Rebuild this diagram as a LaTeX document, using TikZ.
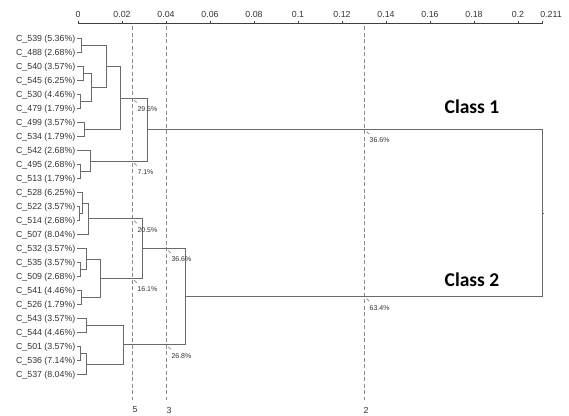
\documentclass[tikz,border=0pt]{standalone}
\usepackage{fontspec}
\setmainfont{Liberation Sans}
\newfontfamily\classfont{Carlito}
\definecolor{treegray}{HTML}{6A6A6A}
\definecolor{axgray}{HTML}{404040}
\definecolor{txtgray}{HTML}{333333}
\definecolor{cutgray}{HTML}{8C8C8C}
\begin{document}
\begin{tikzpicture}[x=1pt,y=-1pt,
  tree/.style={draw=treegray, line width=0.9pt},
  axisline/.style={draw=axgray, line width=0.9pt},
  leaf/.style={anchor=east, font=\fontsize{8.8}{10}\selectfont, text=txtgray, inner sep=0pt},
  ticklab/.style={font=\fontsize{8.8}{10}\selectfont, text=txtgray, inner sep=0pt},
  pct/.style={anchor=west, font=\fontsize{7}{8}\selectfont, text=txtgray, inner sep=0pt},
  cutline/.style={draw=cutgray, dash pattern=on 4pt off 2.5pt, line width=0.8pt},
  leader/.style={draw=treegray, line width=0.5pt},
  classlab/.style={font=\classfont\bfseries\fontsize{19.5}{22}\selectfont, text=black, inner sep=0pt}]
\useasboundingbox (0,0) rectangle (569,415);

% axis
\coordinate (ax0) at (78,23.5);
\coordinate (ax1) at (542.2,23.5);
\draw[axisline] (ax0) -- (ax1);
\foreach \xx/\lab [count=\k] in {78/0, 122/0.02, 166/0.04, 210/0.06, 254/0.08, 298/0.1, 342/0.12, 386/0.14, 430/0.16, 474/0.18, 518/0.2} {
  \coordinate (tk\k) at (\xx,23.5);
  \draw[axisline] (tk\k) -- ++(0,-3);
  \node[ticklab] (tl\k) at (\xx,14) {\lab};
}
\coordinate (tk12) at (542.2,23.5);
\draw[axisline] (tk12) -- ++(0,-3);
\node[ticklab] (tl12) at (551,14) {0.211};

% cut lines
\coordinate (k5t) at (132.3,26); \coordinate (k5b) at (132.3,400);
\coordinate (k3t) at (166.3,26); \coordinate (k3b) at (166.3,400);
\coordinate (k2t) at (364.5,26); \coordinate (k2b) at (364.5,400);
\draw[cutline] (k5t) -- (k5b);
\draw[cutline] (k3t) -- (k3b);
\draw[cutline] (k2t) -- (k2b);
\node[ticklab] (n5) at (135,410) {5};
\node[ticklab] (n3) at (169,410) {3};
\node[ticklab] (n2) at (366,410) {2};

% leaves
\foreach \i/\id/\p in {0/539/5.36, 1/488/2.68, 2/540/3.57, 3/545/6.25, 4/530/4.46,
  5/479/1.79, 6/499/3.57, 7/534/1.79, 8/542/2.68, 9/495/2.68, 10/513/1.79,
  11/528/6.25, 12/522/3.57, 13/514/2.68, 14/507/8.04, 15/532/3.57, 16/535/3.57,
  17/509/2.68, 18/541/4.46, 19/526/1.79, 20/543/3.57, 21/544/4.46, 22/501/3.57,
  23/536/7.14, 24/537/8.04} {
  \pgfmathsetmacro\yy{38.5+14*\i}
  \node[leaf] (L\id) at (75.5,{\yy+0.6}) {C\_\id{} (\p\%)};
  \coordinate (P\id) at (77,\yy);
}

% internal merge points
\coordinate (a1) at (81,45.5);
\coordinate (a2) at (83,73.5);
\coordinate (a3) at (80.7,101.5);
\coordinate (a4) at (91.7,87.5);
\coordinate (a5) at (106,66.5);
\coordinate (a6) at (84,129.5);
\coordinate (a7) at (120,98);
\coordinate (a8) at (80,171.5);
\coordinate (a9) at (90,161);
\coordinate (C1) at (147.7,129.5);
\coordinate (b1) at (79,213.5);
\coordinate (b2) at (82,203);
\coordinate (b3) at (88.7,218.75);
\coordinate (b4) at (80,269.5);
\coordinate (b5) at (86,259);
\coordinate (b6) at (81,297.5);
\coordinate (b7) at (100,278.25);
\coordinate (b8) at (142.5,248.5);
\coordinate (c1) at (86,325.5);
\coordinate (c2) at (80,353.5);
\coordinate (c3) at (86,364);
\coordinate (c4) at (123.3,344.75);
\coordinate (C2) at (185,296.6);
\coordinate (R) at (542.2,213);

% class 1 branches
\draw[tree] (P539) -| (a1); \draw[tree] (P488) -| (a1);
\draw[tree] (P540) -| (a2); \draw[tree] (P545) -| (a2);
\draw[tree] (P530) -| (a3); \draw[tree] (P479) -| (a3);
\draw[tree] (a2) -| (a4); \draw[tree] (a3) -| (a4);
\draw[tree] (a1) -| (a5); \draw[tree] (a4) -| (a5);
\draw[tree] (P499) -| (a6); \draw[tree] (P534) -| (a6);
\draw[tree] (a5) -| (a7); \draw[tree] (a6) -| (a7);
\draw[tree] (P495) -| (a8); \draw[tree] (P513) -| (a8);
\draw[tree] (P542) -| (a9); \draw[tree] (a8) -| (a9);
\draw[tree] (a7) -| (C1); \draw[tree] (a9) -| (C1);

% class 2 branches
\draw[tree] (P522) -| (b1); \draw[tree] (P514) -| (b1);
\draw[tree] (P528) -| (b2); \draw[tree] (b1) -| (b2);
\draw[tree] (b2) -| (b3); \draw[tree] (P507) -| (b3);
\draw[tree] (P535) -| (b4); \draw[tree] (P509) -| (b4);
\draw[tree] (P532) -| (b5); \draw[tree] (b4) -| (b5);
\draw[tree] (P541) -| (b6); \draw[tree] (P526) -| (b6);
\draw[tree] (b5) -| (b7); \draw[tree] (b6) -| (b7);
\draw[tree] (b3) -| (b8); \draw[tree] (b7) -| (b8);
\draw[tree] (P543) -| (c1); \draw[tree] (P544) -| (c1);
\draw[tree] (P501) -| (c2); \draw[tree] (P536) -| (c2);
\draw[tree] (c2) -| (c3); \draw[tree] (P537) -| (c3);
\draw[tree] (c1) -| (c4); \draw[tree] (c3) -| (c4);
\draw[tree] (b8) -| (C2); \draw[tree] (c4) -| (C2);

% root
\draw[tree] (C1) -| (R); \draw[tree] (C2) -| (R);
\draw[tree] (R) -- ++(2,0);

% percentage labels at cut crossings
\foreach \nm/\xx/\yy/\lab in {q1/132.3/98/29.5, q2/132.3/161/7.1, q3/132.3/218.75/20.5,
  q4/132.3/278.25/16.1, q5/166.3/248.5/36.6, q6/166.3/344.75/26.8,
  q7/364.5/129.5/36.6, q8/364.5/296.6/63.4} {
  \coordinate (\nm) at (\xx,\yy);
  \draw[leader] ([shift={(2,2)}]\nm) -- ([shift={(4.5,4.5)}]\nm);
  \node[pct] (\nm l) at ([shift={(5,11)}]\nm) {\lab\%};
}

% class labels
\node[classlab] (cls1) at (472,107) {Class 1};
\node[classlab] (cls2) at (472,280) {Class 2};
\end{tikzpicture}
\end{document}
